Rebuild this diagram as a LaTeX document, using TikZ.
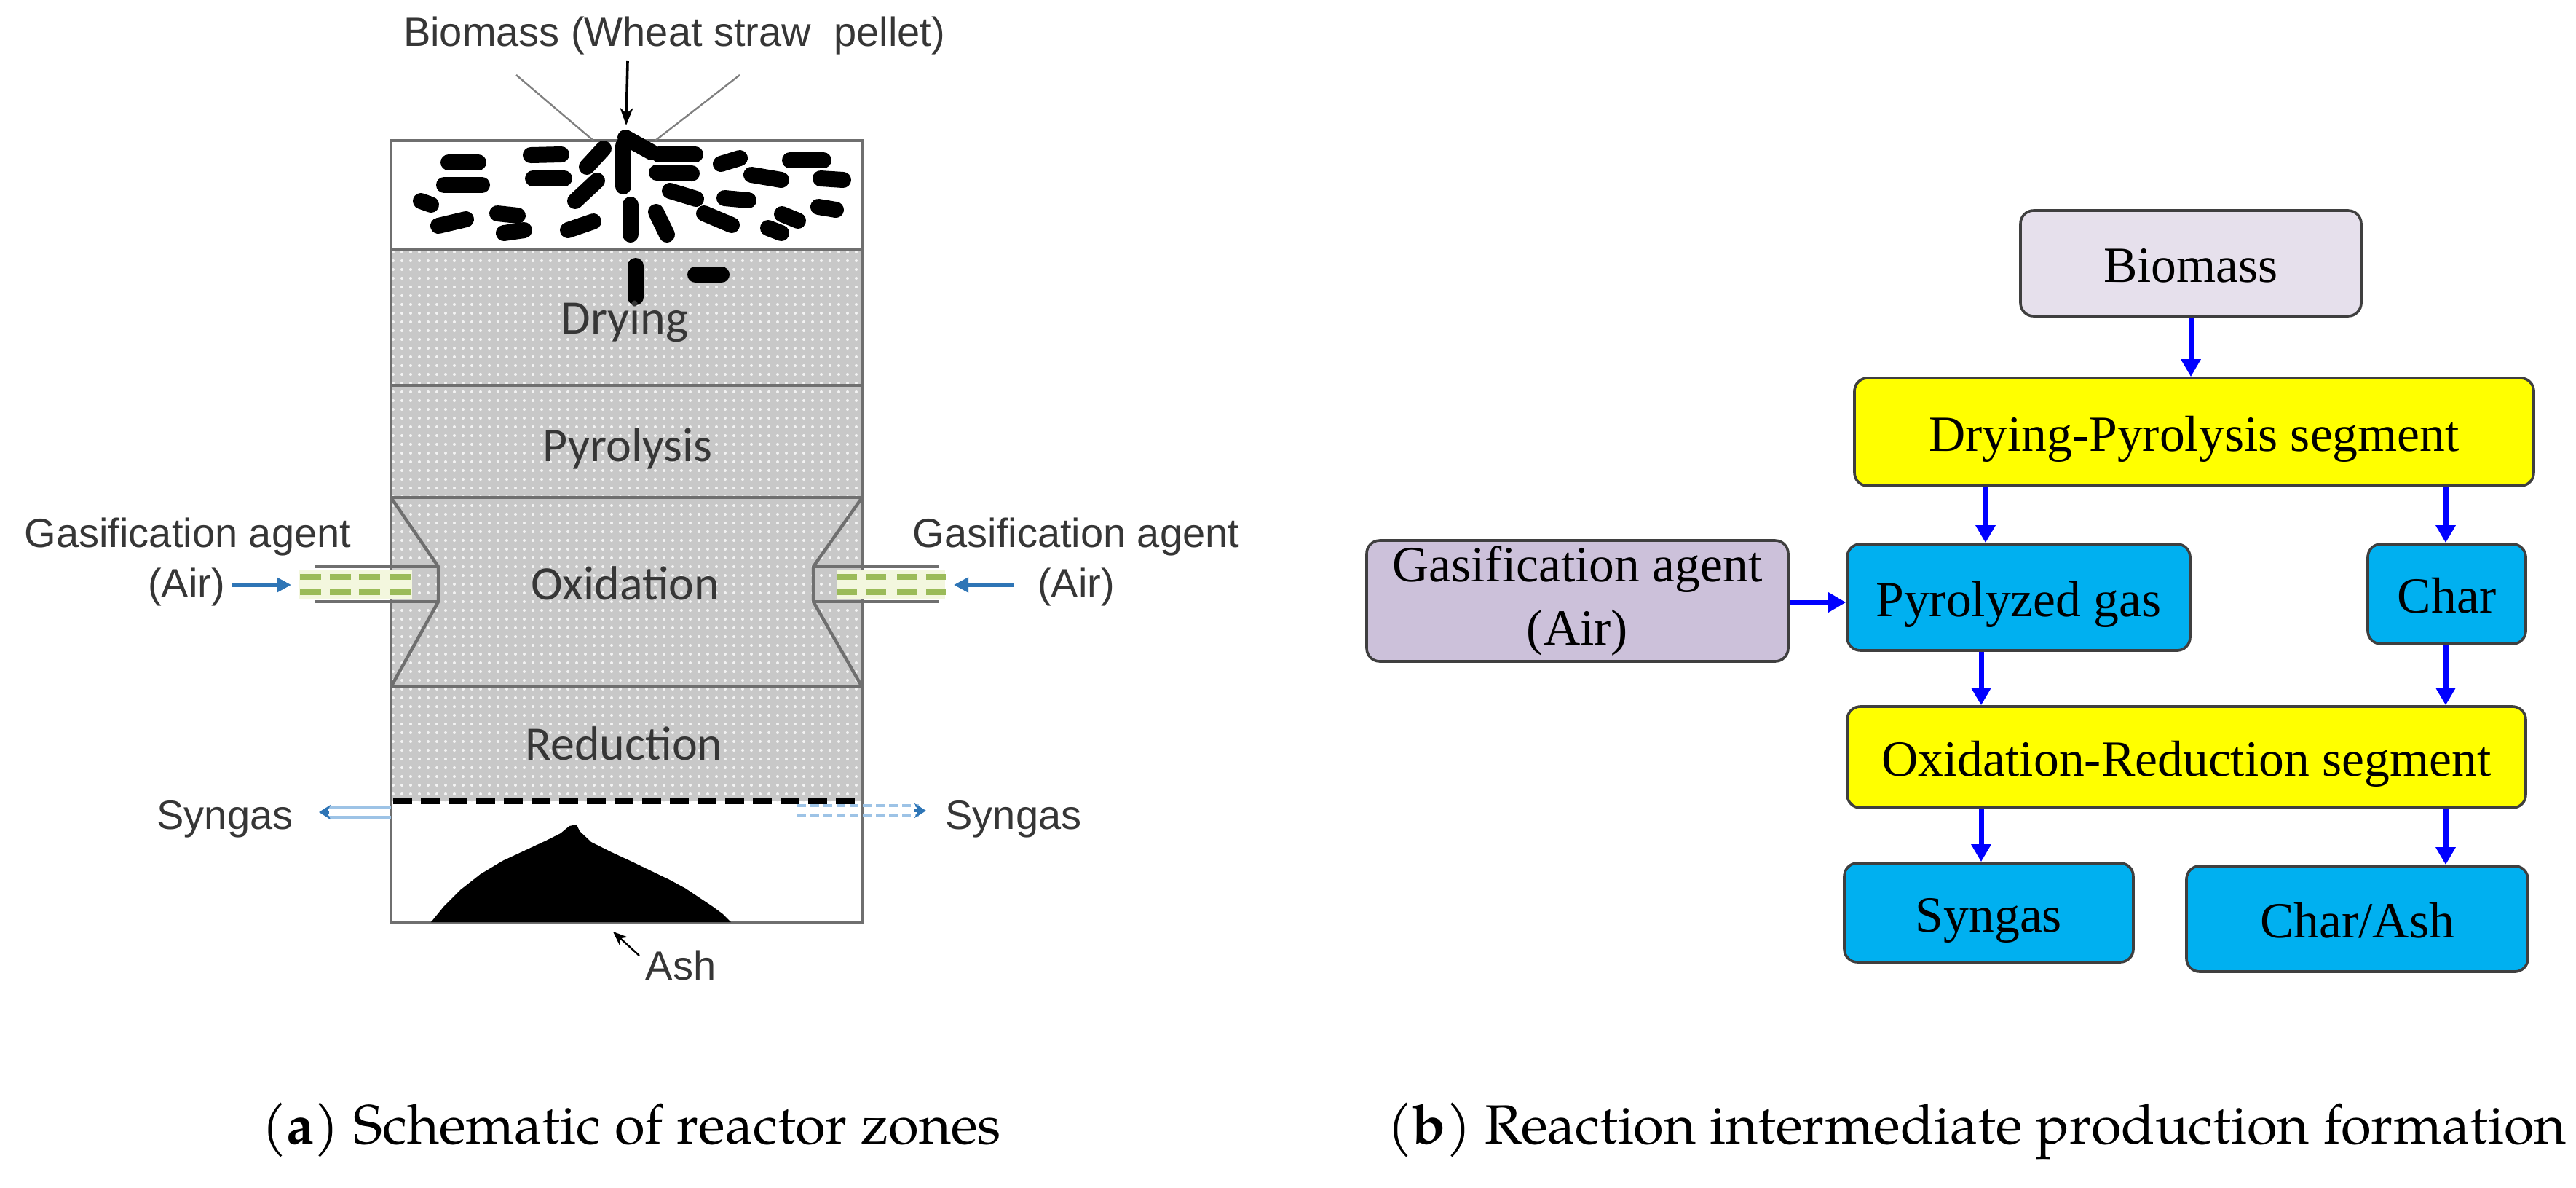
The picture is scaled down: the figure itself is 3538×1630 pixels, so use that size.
\documentclass[tikz,border=0pt]{standalone}
\usepackage{graphicx}
\usepackage{fontspec}
\setmainfont{Liberation Serif}
\newfontfamily\arialf{Liberation Sans}
\newfontfamily\calf{Carlito}
\newfontfamily\capf{TeX Gyre Pagella}
\usetikzlibrary{arrows.meta,patterns}
\definecolor{lavA}{HTML}{E6E0EC}
\definecolor{lavB}{HTML}{CCC1DA}
\definecolor{yel}{HTML}{FFFF00}
\definecolor{sky}{HTML}{00B0F0}
\definecolor{bord}{HTML}{3F3F3F}
\definecolor{arrblue}{HTML}{0000FF}
\definecolor{airblue}{HTML}{2E75B6}
\definecolor{pipeblue}{HTML}{9DC3E6}
\definecolor{nozgreen}{HTML}{9BBB59}
\definecolor{nozfill}{HTML}{F3F7DE}
\definecolor{zonegray}{HTML}{C8C8C8}
\definecolor{wallgray}{HTML}{6F6F6F}
\definecolor{labgray}{HTML}{363636}
\begin{document}
\begin{tikzpicture}[x=0.25pt,y=-0.25pt,
  box/.style={draw=bord, line width=0.9pt, rounded corners=4.5pt, inner sep=0pt,
    font=\fontsize{17.4}{21.75}\selectfont, align=center},
  one/.style={text height=15pt, text depth=2pt},
  flow/.style={-{Triangle[length=6pt,width=6.5pt]}, arrblue, line width=1.75pt},
  lab/.style={font=\arialf\fontsize{14}{17}\selectfont, text=labgray, inner sep=0pt, anchor=base},
  zone/.style={font=\calf\fontsize{16.5}{19}\selectfont, text=labgray, inner sep=0pt, anchor=base},
  capt/.style={font=\capf\fontsize{19}{23}\selectfont, inner sep=0pt, anchor=base},
  pellet/.style={line width=5.5pt, line cap=round, black},
  wall/.style={draw=wallgray, line width=1.1pt},
  airarrow/.style={airblue, line width=1.5pt, -{Triangle[length=5pt,width=5pt]}},
  nozdash/.style={nozgreen, line width=2pt}
]
\useasboundingbox (0,0) rectangle (3538,1630);
\fill[white] (0,0) rectangle (3538,1630);

% ================= (a) reactor =================
\fill[zonegray] (537,343) rectangle (1184,1100);
\fill[pattern=dots, pattern color=white!80!zonegray] (537,343) rectangle (1184,1100);

% zone boundaries
\draw[wall] (537,343) -- (1184,343);
\draw[wall] (537,529) -- (1184,529);
\draw[wall] (537,683) -- (1184,683);
\draw[wall] (537,943) -- (1184,943);
% throat
\draw[wall] (537,683) -- (602,778) -- (602,826) -- (537,943);
\draw[wall] (1184,683) -- (1117,778) -- (1117,826) -- (1184,943);
% outer wall
\draw[wall] (537,193) rectangle (1184,1267);
% grate
\draw[black, line width=2pt, dash pattern=on 6.5pt off 3pt] (540,1100) -- (1181,1100);

% nozzles
\fill[nozfill] (410,783) rectangle (566,822);
\foreach \a in {412,453,493,535}{
  \draw[nozdash] (\a,792) -- ++(29,0);
  \draw[nozdash] (\a,813) -- ++(29,0);
}
\draw[wall] (433,778) -- (602,778);
\draw[wall] (433,826) -- (602,826);
\fill[nozfill] (1150,783) rectangle (1298,822);
\foreach \a in {1150,1190,1232,1272}{
  \draw[nozdash] (\a,792) -- ++(27,0);
  \draw[nozdash] (\a,813) -- ++(27,0);
}
\draw[wall] (1117,778) -- (1290,778);
\draw[wall] (1117,826) -- (1290,826);

% air arrows
\coordinate (aL1) at (318,803); \coordinate (aL2) at (400,803);
\coordinate (aR1) at (1392,803); \coordinate (aR2) at (1310,803);
\draw[airarrow] (aL1) -- (aL2);
\draw[airarrow] (aR1) -- (aR2);

% syngas pipes
\draw[pipeblue, line width=0.8pt] (450,1108) -- (537,1108);
\draw[pipeblue, line width=0.8pt] (450,1122) -- (537,1122);
\coordinate (sL1) at (452,1115); \coordinate (sL2) at (438,1115);
\draw[airblue, line width=0.8pt, -{Stealth[length=4pt,width=5pt]}] (sL1) -- (sL2);
\draw[pipeblue, line width=0.8pt, dash pattern=on 3pt off 1.5pt] (1095,1106) -- (1262,1106);
\draw[pipeblue, line width=0.8pt, dash pattern=on 3pt off 1.5pt] (1095,1120) -- (1262,1120);
\coordinate (sR1) at (1256,1113); \coordinate (sR2) at (1272,1113);
\draw[airblue, line width=0.8pt, -{Stealth[length=4pt,width=5pt]}] (sR1) -- (sR2);

% ash pile
\fill[black] (592,1266) -- (610,1244) -- (632,1222) -- (660,1200) -- (690,1182)
  -- (720,1168) -- (748,1155) -- (770,1144) -- (782,1134) -- (792,1132) -- (796,1141)
  -- (812,1156) -- (840,1170) -- (868,1183) -- (895,1196) -- (920,1208)
  -- (942,1220) -- (960,1232) -- (978,1244) -- (993,1255) -- (1004,1266) -- cycle;
\coordinate (ashT) at (878,1312); \coordinate (ashH) at (842,1279);
\draw[black, line width=0.6pt, -{Stealth[length=5pt,width=4pt]}] (ashT) -- (ashH);

% feed
\coordinate (fT) at (862,84); \coordinate (fH) at (860,172);
\draw[black, line width=0.9pt, -{Stealth[length=6pt,width=4.5pt]}] (fT) -- (fH);
\draw[gray, line width=0.6pt] (709,103) -- (815,193);
\draw[gray, line width=0.6pt] (1016,103) -- (900,193);

% pellets
\draw[pellet] (616,223) -- (657,223);
\draw[pellet] (610,254) -- (662,254);
\draw[pellet] (578,276) -- (592,281);
\draw[pellet] (602,310) -- (640,301);
\draw[pellet] (683,293) -- (711,296);
\draw[pellet] (692,320) -- (720,316);
\draw[pellet] (729,213) -- (771,212);
\draw[pellet] (732,245) -- (775,245);
\draw[pellet] (806,229) -- (829,204);
\draw[pellet] (790,276) -- (820,248);
\draw[pellet] (780,316) -- (815,304);
\draw[pellet] (856,200) -- (856,256);
\draw[pellet] (859,189) -- (895,209);
\draw[pellet] (866,281) -- (866,322);
\draw[pellet] (901,291) -- (916,322);
\draw[pellet] (905,212) -- (955,212);
\draw[pellet] (902,237) -- (950,238);
\draw[pellet] (920,262) -- (956,273);
\draw[pellet] (967,293) -- (1005,309);
\draw[pellet] (995,272) -- (1028,275);
\draw[pellet] (990,225) -- (1016,217);
\draw[pellet] (1032,240) -- (1073,247);
\draw[pellet] (1085,220) -- (1131,220);
\draw[pellet] (1127,245) -- (1158,247);
\draw[pellet] (1124,284) -- (1148,288);
\draw[pellet] (1074,294) -- (1096,303);
\draw[pellet] (1055,313) -- (1073,320);
\draw[pellet] (873,365) -- (873,408);
\draw[pellet] (955,377) -- (991,377);

% zone labels
\node[zone] (zdry) at (858,458) {Drying};
\node[zone] (zpyr) at (862,633) {Pyrolysis};
\node[zone] (zoxi) at (859,823) {Oxidation};
\node[zone] (zred) at (857,1043) {Reduction};

% labels
\node[lab] (tbio) at (926,63) {Biomass (Wheat straw\ \ pellet)};
\node[lab] (tgaL) at (258,751) {Gasification agent};
\node[lab] (tairL) at (256,820) {(Air)};
\node[lab] (tgaR) at (1478,751) {Gasification agent};
\node[lab] (tairR) at (1478,820) {(Air)};
\node[lab] (tsyL) at (309,1138) {Syngas};
\node[lab] (tsyR) at (1392,1138) {Syngas};
\node[lab] (tash) at (935,1345) {Ash};

\node[capt] (capa) at (867,1570) {(\textbf{a}) Schematic of reactor zones};

% ================= (b) flow chart =================
\node[box, one, fill=lavA, minimum width=117pt, minimum height=36.25pt] (bio) at (3009,361.5) {Biomass};
\node[box, one, fill=yel, minimum width=233.25pt, minimum height=37pt] (dp) at (3013.5,593) {Drying-Pyrolysis segment};
\node[box, fill=lavB, minimum width=144.75pt, minimum height=41.5pt] (gas) at (2166.5,825) {Gasification agent\\(Air)};
\node[box, one, fill=sky, minimum width=117.75pt, minimum height=36.5pt] (pg) at (2772.5,820) {Pyrolyzed gas};
\node[box, one, fill=sky, minimum width=54.25pt, minimum height=34.25pt] (ch) at (3360.5,815.5) {Char};
\node[box, one, fill=yel, minimum width=233pt, minimum height=34.75pt] (orx) at (3003,1039.5) {Oxidation-Reduction segment};
\node[box, one, fill=sky, minimum width=99.25pt, minimum height=34pt] (sy) at (2731.5,1253) {Syngas};
\node[box, one, fill=sky, minimum width=117.25pt, minimum height=36.25pt] (ca) at (3237.5,1261.5) {Char/Ash};

\coordinate (xa) at (3009,0);
\coordinate (xb) at (2727,0);
\coordinate (xc) at (3359,0);
\coordinate (xd) at (2721,0);
\draw[flow] (bio.south -| xa) -- (dp.north -| xa);
\draw[flow] (dp.south -| xb) -- (pg.north -| xb);
\draw[flow] (dp.south -| xc) -- (ch.north -| xc);
\draw[flow] (pg.south -| xd) -- (orx.north -| xd);
\draw[flow] (ch.south -| xc) -- (orx.north -| xc);
\draw[flow] (orx.south -| xd) -- (sy.north -| xd);
\draw[flow] (orx.south -| xc) -- (ca.north -| xc);
\coordinate (hy) at (0,827);
\draw[flow] (gas.east |- hy) -- (pg.west |- hy);

\node[capt] (capb) at (2715,1570) {(\textbf{b}) Reaction intermediate production formation};
\end{tikzpicture}
\end{document}
